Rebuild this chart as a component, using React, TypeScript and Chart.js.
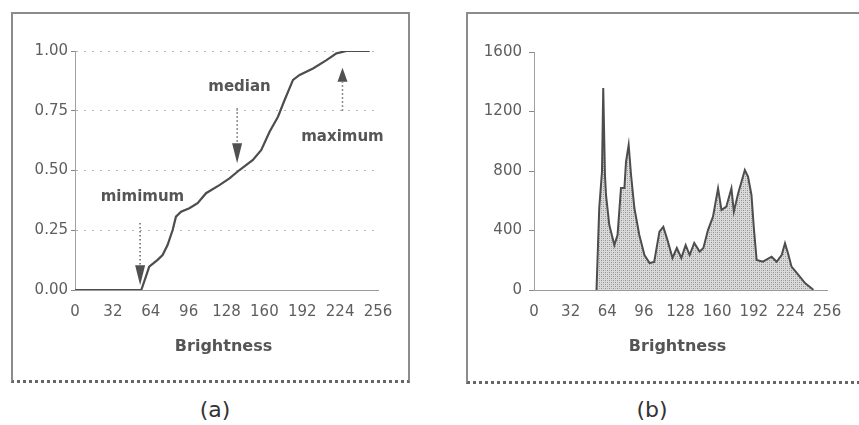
import React, { useEffect, useRef } from "react";
import { Chart, registerables } from "chart.js";
Chart.register(...registerables);

// ---- data ----
const brightnessTickStep = 32;
const brightnessMax = 256;
const cdfTickStep = 0.25;
const histTickStep = 400;
const histMax = 1600;

const cdfBrightness = [0, 56, 59.9, 62.7, 69.8, 74, 78.2, 82.5, 85.3, 89.6, 96.6, 103.6, 110.7, 122, 130.5, 139, 150.3, 157.4, 164.4, 171.5, 177.1, 184.2, 189.8, 201.1, 212.5, 220.9, 229.4, 249];
const cdfValues = [0, 0, 0.056, 0.098, 0.126, 0.146, 0.188, 0.251, 0.307, 0.328, 0.342, 0.363, 0.405, 0.439, 0.467, 0.502, 0.544, 0.586, 0.662, 0.725, 0.795, 0.879, 0.9, 0.927, 0.962, 0.99, 1.0, 1.0];

const histBrightness = [54.6, 57, 59.4, 60.5, 62, 62.9, 65.8, 70.2, 73, 76, 79, 80.4, 82.7, 84.8, 87.7, 92, 96.5, 101, 105, 109.6, 113, 117, 121, 124.8, 128.7, 132.5, 136, 140, 144.7, 148, 152, 156.4, 160.8, 163.8, 168, 172.5, 174.6, 178.4, 181.3, 184.2, 187, 190, 192, 194.5, 200, 207.6, 212, 216.4, 219.3, 222, 225, 231, 237, 242.7, 244];
const histCounts = [0, 551, 795, 1358, 773, 639, 437, 302, 370, 686, 686, 863, 975, 773, 551, 370, 235, 181, 188, 392, 425, 325, 215, 282, 215, 302, 235, 316, 258, 282, 403, 493, 683, 538, 560, 683, 527, 650, 728, 807, 762, 639, 425, 202, 190, 224, 190, 235, 314, 246, 157, 101, 45, 11, 0];

// annotations (chart a), in data units
const annLabels = ["mimimum", "median", "maximum"];
const annLabelX = [57, 139, 226];
const annLabelY = [0.39, 0.85, 0.64];
const arrowX = [55, 137, 226];
const arrowFrom = [0.28, 0.76, 0.75];
const arrowTo = [0.02, 0.53, 0.93];

const xTitle = "Brightness";

// ---- styles ----
const FONT = "'DejaVu Sans', 'Liberation Sans', Arial, sans-serif";
const TICK_COLOR = "#5e5e5e";
const LINE_COLOR = "#4d4d4d";
const TEXT_COLOR = "#555";

const xTitlePlugin = {
  id: "xTitle",
  afterDraw(chart: any) {
    const { ctx, chartArea } = chart;
    ctx.save();
    ctx.font = `bold 16px ${FONT}`;
    ctx.fillStyle = TEXT_COLOR;
    ctx.textAlign = "center";
    ctx.textBaseline = "middle";
    ctx.fillText(xTitle, (chartArea.left + chartArea.right) / 2 - 3, chartArea.bottom + 57);
    ctx.restore();
  },
};

const annotationPlugin = {
  id: "cdfAnnotations",
  afterDatasetsDraw(chart: any) {
    const { ctx } = chart;
    const xs = chart.scales.x;
    const ys = chart.scales.y;
    ctx.save();
    for (let i = 0; i < annLabels.length; i++) {
      const px = xs.getPixelForValue(arrowX[i]);
      const pFrom = ys.getPixelForValue(arrowFrom[i]);
      const pTo = ys.getPixelForValue(arrowTo[i]);
      const dir = pTo > pFrom ? 1 : -1;
      const head = dir > 0 ? 20 : 14;
      const base = pTo - dir * head;
      ctx.strokeStyle = "#666";
      ctx.lineWidth = 1.5;
      ctx.setLineDash([1.5, 2.5]);
      ctx.beginPath();
      ctx.moveTo(px, pFrom);
      ctx.lineTo(px, base);
      ctx.stroke();
      ctx.setLineDash([]);
      ctx.fillStyle = "#505050";
      ctx.beginPath();
      ctx.moveTo(px - 5, base);
      ctx.lineTo(px + 5, base);
      ctx.lineTo(px, pTo);
      ctx.closePath();
      ctx.fill();

      ctx.font = `bold 15px ${FONT}`;
      ctx.fillStyle = TEXT_COLOR;
      ctx.textAlign = "center";
      ctx.textBaseline = "middle";
      ctx.fillText(annLabels[i], xs.getPixelForValue(annLabelX[i]), ys.getPixelForValue(annLabelY[i]));
    }
    ctx.restore();
  },
};

function makeStipple(): CanvasPattern | string {
  const c = document.createElement("canvas");
  c.width = 4;
  c.height = 4;
  const g = c.getContext("2d");
  if (!g) return "#c8c8c8";
  g.fillStyle = "#dadada";
  g.fillRect(0, 0, 4, 4);
  g.fillStyle = "#8e8e8e";
  g.fillRect(0, 0, 1, 1);
  g.fillRect(2, 2, 1, 1);
  g.fillStyle = "#b0b0b0";
  g.fillRect(2, 0, 1, 1);
  g.fillRect(0, 2, 1, 1);
  const p = g.createPattern(c, "repeat");
  return p || "#c8c8c8";
}

function ChartBox(props: { left: number; top: number; width: number; height: number; build: () => any }) {
  const ref = useRef<HTMLCanvasElement | null>(null);
  useEffect(() => {
    if (!ref.current) return;
    const chart = new Chart(ref.current, props.build());
    return () => chart.destroy();
  }, []);
  return (
    <canvas
      ref={ref}
      width={props.width}
      height={props.height}
      style={{ position: "absolute", left: props.left, top: props.top, width: props.width, height: props.height }}
    />
  );
}

const tickFont = { family: FONT, size: 15 };

function buildCdf() {
  return {
    type: "line",
    data: {
      datasets: [
        {
          data: cdfBrightness.map((x, i) => ({ x, y: cdfValues[i] })),
          borderColor: LINE_COLOR,
          borderWidth: 2.2,
          pointRadius: 0,
          tension: 0,
          fill: false,
        },
      ],
    },
    options: {
      animation: false,
      responsive: false,
      maintainAspectRatio: false,
      layout: { padding: { top: 37, right: 30, left: 0, bottom: 0 } },
      plugins: { legend: { display: false }, tooltip: { enabled: false } },
      scales: {
        x: {
          type: "linear",
          min: 0,
          max: brightnessMax,
          ticks: { stepSize: brightnessTickStep, font: tickFont, color: TICK_COLOR, padding: 13, maxRotation: 0, autoSkip: false, callback: (v: any) => String(v) },
          grid: { display: false, drawTicks: false },
          border: { display: true, color: "#9a9a9a", dash: [2, 4], width: 1 },
          afterFit: (s: any) => { s.height = 90; },
        },
        y: {
          type: "linear",
          min: 0,
          max: 1,
          ticks: { stepSize: cdfTickStep, font: tickFont, color: TICK_COLOR, padding: 3, callback: (v: any) => Number(v).toFixed(2) },
          grid: { color: "#b5b5b5", lineWidth: 1, drawTicks: true, tickLength: 4, tickColor: "#888" },
          border: { display: true, color: "#a0a0a0", dash: [2, 6], width: 1 },
          afterFit: (s: any) => { s.width = 63; },
        },
      },
    },
    plugins: [annotationPlugin, xTitlePlugin],
  };
}

function buildHist() {
  return {
    type: "line",
    data: {
      datasets: [
        {
          data: histBrightness.map((x, i) => ({ x, y: histCounts[i] })),
          borderColor: LINE_COLOR,
          borderWidth: 2,
          pointRadius: 0,
          tension: 0,
          fill: "origin",
          backgroundColor: makeStipple(),
        },
      ],
    },
    options: {
      animation: false,
      responsive: false,
      maintainAspectRatio: false,
      layout: { padding: { top: 38, right: 32, left: 0, bottom: 0 } },
      plugins: { legend: { display: false }, tooltip: { enabled: false }, filler: { propagate: false } },
      scales: {
        x: {
          type: "linear",
          min: 0,
          max: brightnessMax,
          ticks: { stepSize: brightnessTickStep, font: tickFont, color: TICK_COLOR, padding: 13, maxRotation: 0, autoSkip: false, callback: (v: any) => String(v) },
          grid: { display: false, drawTicks: false },
          border: { display: true, color: "#9a9a9a", dash: [2, 4], width: 1 },
          afterFit: (s: any) => { s.height = 93; },
        },
        y: {
          type: "linear",
          min: 0,
          max: histMax,
          ticks: { stepSize: histTickStep, font: tickFont, color: TICK_COLOR, padding: 7, callback: (v: any) => String(v) },
          grid: { drawOnChartArea: false, drawTicks: true, tickLength: 5, tickColor: "#888" },
          border: { display: true, color: "#a0a0a0", dash: [2, 5], width: 1 },
          afterFit: (s: any) => { s.width = 67; },
        },
      },
    },
    plugins: [xTitlePlugin],
  };
}

export default function App() {
  const frameStyle: React.CSSProperties = {
    position: "absolute",
    boxSizing: "border-box",
    border: "2px solid #8c8c8c",
    borderBottom: "3px dotted #666",
  };
  const capStyle: React.CSSProperties = {
    position: "absolute",
    width: 60,
    textAlign: "center",
    font: `22px ${FONT}`,
    color: "#333",
    lineHeight: "26px",
  };
  return (
    <div style={{ position: "fixed", left: 0, top: 0, width: 859, height: 425, overflow: "hidden", background: "#fff" }}>
      <div style={{ ...frameStyle, left: 11, top: 12, width: 399, height: 371 }} />
      <div style={{ ...frameStyle, left: 466, top: 12, width: 420, height: 372 }} />
      <ChartBox left={12} top={14} width={396} height={366} build={buildCdf} />
      <ChartBox left={467} top={14} width={392} height={369} build={buildHist} />
      <div style={{ ...capStyle, left: 185, top: 397 }}>(a)</div>
      <div style={{ ...capStyle, left: 622, top: 397 }}>(b)</div>
    </div>
  );
}
